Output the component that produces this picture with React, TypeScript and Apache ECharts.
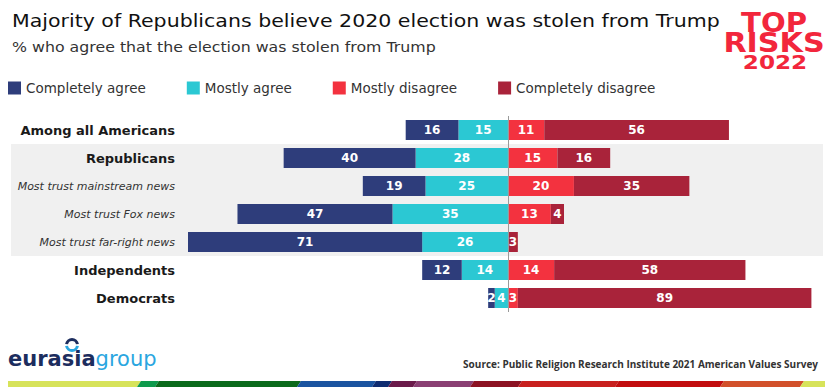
import React, { useEffect, useRef } from "react";
import * as echarts from "echarts";

const categories = [
  "Among all Americans",
  "Republicans",
  "Most trust mainstream news",
  "Most trust Fox news",
  "Most trust far-right news",
  "Independents",
  "Democrats",
];
const isSubgroup = [false, false, true, true, true, false, false];
const completelyAgree = [16, 40, 19, 47, 71, 12, 2];
const mostlyAgree = [15, 28, 25, 35, 26, 14, 4];
const mostlyDisagree = [11, 15, 20, 13, 0, 14, 3];
const completelyDisagree = [56, 16, 35, 4, 3, 58, 89];
const seriesNames = ["Completely agree", "Mostly agree", "Mostly disagree", "Completely disagree"];
const seriesColors = ["#2e3d7b", "#2bc8d3", "#f3323f", "#a9233a"];
const shadedRows = [1, 4];

const titleText = "Majority of Republicans believe 2020 election was stolen from Trump";
const subtitleText = "% who agree that the election was stolen from Trump";
const sourceText = "Source: Public Religion Research Institute 2021 American Values Survey";

const stripColors = ["#d7e35a", "#0e9a4c", "#0b6a1b", "#1a54a0", "#0f2c70", "#6a1a4a", "#8a3f73", "#8c1222", "#c8201e", "#c20d0e", "#d2502a", "#d7e35a"];
const stripStops = [8, 137, 155, 297, 372, 388, 413, 470, 518, 615, 720, 800, 830];

const FONT = "DejaVu Sans";

export default function App() {
  const ref = useRef<HTMLDivElement>(null);
  useEffect(() => {
    document.body.style.margin = "0";
    const chart = echarts.init(ref.current!, null, { renderer: "svg" });
    const labelFmt = (p: any) => (p.value === 0 ? "" : String(Math.abs(p.value)));
    const label = {
      show: true,
      position: "inside",
      color: "#fff",
      fontFamily: FONT,
      fontWeight: "bold",
      fontSize: 12,
      formatter: labelFmt,
    };
    const mk = (name: string, data: number[], color: string, extra: any = {}) => ({
      name,
      type: "bar",
      stack: "total",
      barWidth: 20,
      data,
      itemStyle: { color },
      label,
      emphasis: { disabled: true },
      ...extra,
    });

    const strip = stripColors.map((c, i) => {
      const x0 = stripStops[i];
      const x1 = stripStops[i + 1];
      const s = 4;
      return {
        type: "polygon",
        silent: true,
        shape: { points: [[x0 + (i === 0 ? 0 : s), 381], [x1 + s, 381], [x1, 387], [x0, 387]] },
        style: { fill: c },
      };
    });

    chart.setOption({
      animation: false,
      legend: {
        data: seriesNames,
        left: 3,
        top: 76,
        icon: "rect",
        itemWidth: 13,
        itemHeight: 13,
        itemGap: 41,
        textStyle: { fontFamily: FONT, fontSize: 13.5, color: "#333" },
        selectedMode: false,
      },
      grid: { left: 188, right: 7, top: 116, height: 196 },
      xAxis: { type: "value", min: -97, max: 94, show: false },
      yAxis: {
        type: "category",
        data: categories,
        inverse: true,
        axisLine: { show: false },
        axisTick: { show: false },
        axisLabel: {
          margin: 13,
          formatter: (v: string, i: number) => (isSubgroup[i] ? `{s|${v}}` : `{m|${v}}`),
          rich: {
            m: { fontFamily: FONT, fontWeight: "bold", fontSize: 13, color: "#1a1a1a" },
            s: { fontFamily: FONT, fontStyle: "italic", fontSize: 11, color: "#333" },
          },
        },
      },
      series: [
        mk(seriesNames[1], mostlyAgree.map((v) => -v), seriesColors[1], {
          markLine: {
            silent: true,
            symbol: "none",
            label: { show: false },
            lineStyle: { color: "#9a9a9a", type: "solid", width: 1 },
            data: [{ xAxis: 0 }],
          },
        }),
        mk(seriesNames[0], completelyAgree.map((v) => -v), seriesColors[0]),
        mk(seriesNames[2], mostlyDisagree, seriesColors[2]),
        mk(seriesNames[3], completelyDisagree, seriesColors[3]),
      ],
    });

    const yTop = chart.convertToPixel({ yAxisIndex: 0 }, categories[shadedRows[0]]) as number;
    const yBot = chart.convertToPixel({ yAxisIndex: 0 }, categories[shadedRows[1]]) as number;
    const half = 14;

    chart.setOption({
      graphic: [
        {
          type: "rect",
          z: -10,
          silent: true,
          shape: { x: 11, y: yTop - half, width: 812, height: yBot - yTop + 2 * half },
          style: { fill: "#f0f0f0" },
        },
        {
          type: "text",
          x: 12,
          y: 21,
          scaleX: 1.14,
          style: { text: titleText, fontFamily: FONT, fontSize: 18, fill: "#111", textAlign: "left", textVerticalAlign: "middle" },
        },
        {
          type: "text",
          x: 12,
          y: 47,
          scaleX: 1.17,
          style: { text: subtitleText, fontFamily: FONT, fontSize: 13.5, fill: "#333", textAlign: "left", textVerticalAlign: "middle" },
        },
        {
          type: "text",
          x: 774,
          y: 23,
          scaleX: 1.12,
          style: { text: "TOP", fontFamily: FONT, fontWeight: "bold", fontSize: 26, fill: "#f2263c", textAlign: "center", textVerticalAlign: "middle" },
        },
        {
          type: "text",
          x: 774,
          y: 43,
          scaleX: 1.16,
          style: { text: "RISKS", fontFamily: FONT, fontWeight: "bold", fontSize: 26, fill: "#f2263c", textAlign: "center", textVerticalAlign: "middle" },
        },
        {
          type: "text",
          x: 775,
          y: 62,
          scaleX: 1.22,
          style: { text: "2022", fontFamily: FONT, fontWeight: "bold", fontSize: 19, fill: "#f2263c", textAlign: "center", textVerticalAlign: "middle" },
        },
        {
          type: "text",
          x: 818,
          y: 364,
          style: { text: sourceText, fontFamily: "Open Sans", fontWeight: "bold", fontSize: 10, fill: "#333", textAlign: "right", textVerticalAlign: "middle" },
        },
        {
          type: "text",
          x: 8,
          y: 359,
          style: {
            text: "{a|eurasia}{b|group}",
            textVerticalAlign: "middle",
            rich: {
              a: { fontFamily: FONT, fontWeight: "bold", fontSize: 21, fill: "#1c2d5e", color: "#1c2d5e" },
              b: { fontFamily: FONT, fontSize: 21, fill: "#2aa6e0", color: "#2aa6e0" },
            },
          },
        },
        {
          type: "arc",
          shape: { cx: 72, cy: 345, r: 5.5, startAngle: Math.PI * 1.05, endAngle: Math.PI * 1.95, clockwise: true },
          style: { stroke: "#1c2d5e", lineWidth: 3, fill: "none" },
        },
        {
          type: "arc",
          shape: { cx: 72, cy: 345, r: 5.5, startAngle: Math.PI * 0.05, endAngle: Math.PI * 0.95, clockwise: true },
          style: { stroke: "#2aa6e0", lineWidth: 3, fill: "none" },
        },
        ...strip,
      ],
    });

    return () => chart.dispose();
  }, []);
  return <div ref={ref} style={{ position: "fixed", left: 0, top: 0, width: 825, height: 387, background: "#fff" }} />;
}
